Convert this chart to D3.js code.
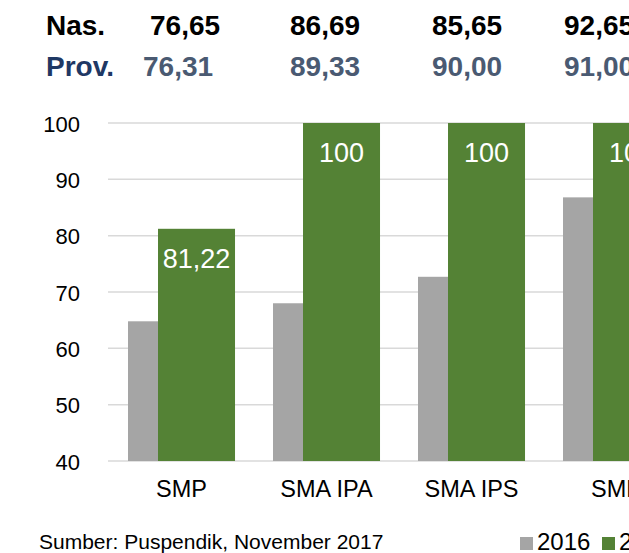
<!DOCTYPE html>
<html>
<head>
<meta charset="utf-8">
<script src="https://cdn.jsdelivr.net/npm/d3@7"></script>
<style>
  html, body { margin: 0; padding: 0; background: #fff; }
  svg { display: block; font-family: "Liberation Sans", Arial, sans-serif; }
</style>
</head>
<body>
<svg id="chart" width="629" height="553"></svg>
<script>
// ---- data ----
const categories = ["SMP", "SMA IPA", "SMA IPS", "SMK"];
const values2016 = [64.8, 68.0, 72.7, 86.8];
const values2017 = [81.22, 100, 100, 100];
const labels2017 = ["81,22", "100", "100", "100"];
const nasLabels = ["76,65", "86,69", "85,65", "92,65"];
const provLabels = ["76,31", "89,33", "90,00", "91,00"];
const yTicks = [40, 50, 60, 70, 80, 90, 100];
const seriesNames = ["2016", "2017"];
const source = "Sumber: Puspendik, November 2017";

// ---- layout / style ----
const W = 629, H = 553;
const plotLeft = 108, plotTop = 123, plotBottom = 461;
const colors = { "2016": "#A5A5A5", "2017": "#548235" };
const nasX = [150, 290, 432, 564];
const provX = [143, 290, 432, 564];

const svg = d3.select("#chart");

const x = d3.scaleBand()
  .domain(categories)
  .range([plotLeft, plotLeft + 145 * (4 - 0.262 + 2 * 0.138)])
  .paddingInner(0.262)
  .paddingOuter(0.138);

const y = d3.scaleLinear().domain([40, 100]).range([plotBottom, plotTop]);

const bw = x.bandwidth();
const barW = bw * 77 / 107;

// gridlines
svg.append("g").selectAll("line")
  .data(yTicks)
  .join("line")
  .attr("x1", plotLeft)
  .attr("x2", W + 10)
  .attr("y1", d => y(d))
  .attr("y2", d => y(d))
  .attr("stroke", "#D9D9D9")
  .attr("stroke-width", 1.5);

// y axis labels
const yAxis = d3.axisLeft(y).tickValues(yTicks).tickSize(0).tickPadding(0);
const yg = svg.append("g")
  .attr("transform", `translate(${plotLeft - 28},0)`)
  .call(yAxis);
yg.select(".domain").remove();
yg.selectAll("text")
  .attr("font-size", 22)
  .attr("font-family", "Liberation Sans, Arial, sans-serif")
  .attr("fill", "#000")
  .attr("dy", "0.37em");

// bars 2016
svg.append("g").selectAll("rect")
  .data(categories)
  .join("rect")
  .attr("x", d => x(d))
  .attr("width", barW)
  .attr("y", (d, i) => y(values2016[i]))
  .attr("height", (d, i) => y(40) - y(values2016[i]))
  .attr("fill", colors["2016"]);

// bars 2017
svg.append("g").selectAll("rect")
  .data(categories)
  .join("rect")
  .attr("x", d => x(d) + bw - barW)
  .attr("width", barW)
  .attr("y", (d, i) => y(values2017[i]))
  .attr("height", (d, i) => y(40) - y(values2017[i]))
  .attr("fill", colors["2017"]);

// value labels
svg.append("g").selectAll("text")
  .data(categories)
  .join("text")
  .attr("x", d => x(d) + bw - barW / 2)
  .attr("y", (d, i) => y(values2017[i]) + 39)
  .attr("text-anchor", "middle")
  .attr("font-size", 27)
  .attr("fill", "#fff")
  .text((d, i) => labels2017[i]);

// x axis labels
const xAxis = d3.axisBottom(x).tickSize(0).tickPadding(0);
const xg = svg.append("g")
  .attr("transform", `translate(0,${plotBottom})`)
  .call(xAxis);
xg.select(".domain").remove();
xg.selectAll("text")
  .attr("font-size", 23.5)
  .attr("font-family", "Liberation Sans, Arial, sans-serif")
  .attr("fill", "#000")
  .attr("dy", 0)
  .attr("y", 36);

// header rows
svg.append("text").attr("x", 46).attr("y", 35)
  .attr("font-size", 28).attr("font-weight", "bold").attr("fill", "#000").text("Nas.");
svg.append("text").attr("x", 46).attr("y", 76)
  .attr("font-size", 28).attr("font-weight", "bold").attr("fill", "#1F3864").text("Prov.");
svg.append("g").selectAll("text")
  .data(nasLabels)
  .join("text")
  .attr("x", (d, i) => nasX[i])
  .attr("y", 35)
  .attr("font-size", 28).attr("font-weight", "bold").attr("fill", "#000")
  .text(d => d);
svg.append("g").selectAll("text")
  .data(provLabels)
  .join("text")
  .attr("x", (d, i) => provX[i])
  .attr("y", 76)
  .attr("font-size", 28).attr("font-weight", "bold").attr("fill", "#4A5A72")
  .text(d => d);

// source
svg.append("text").attr("x", 39).attr("y", 549)
  .attr("font-size", 21).attr("fill", "#000").text(source);

// legend
const legX = [520, 602];
const lg = svg.append("g").selectAll("g")
  .data(seriesNames)
  .join("g")
  .attr("transform", (d, i) => `translate(${legX[i]},0)`);
lg.append("rect").attr("x", 0).attr("y", 537).attr("width", 13).attr("height", 13)
  .attr("fill", d => colors[d]);
lg.append("text").attr("x", 17).attr("y", 550)
  .attr("font-size", 24).attr("fill", "#000").text(d => d);
</script>
</body>
</html>
